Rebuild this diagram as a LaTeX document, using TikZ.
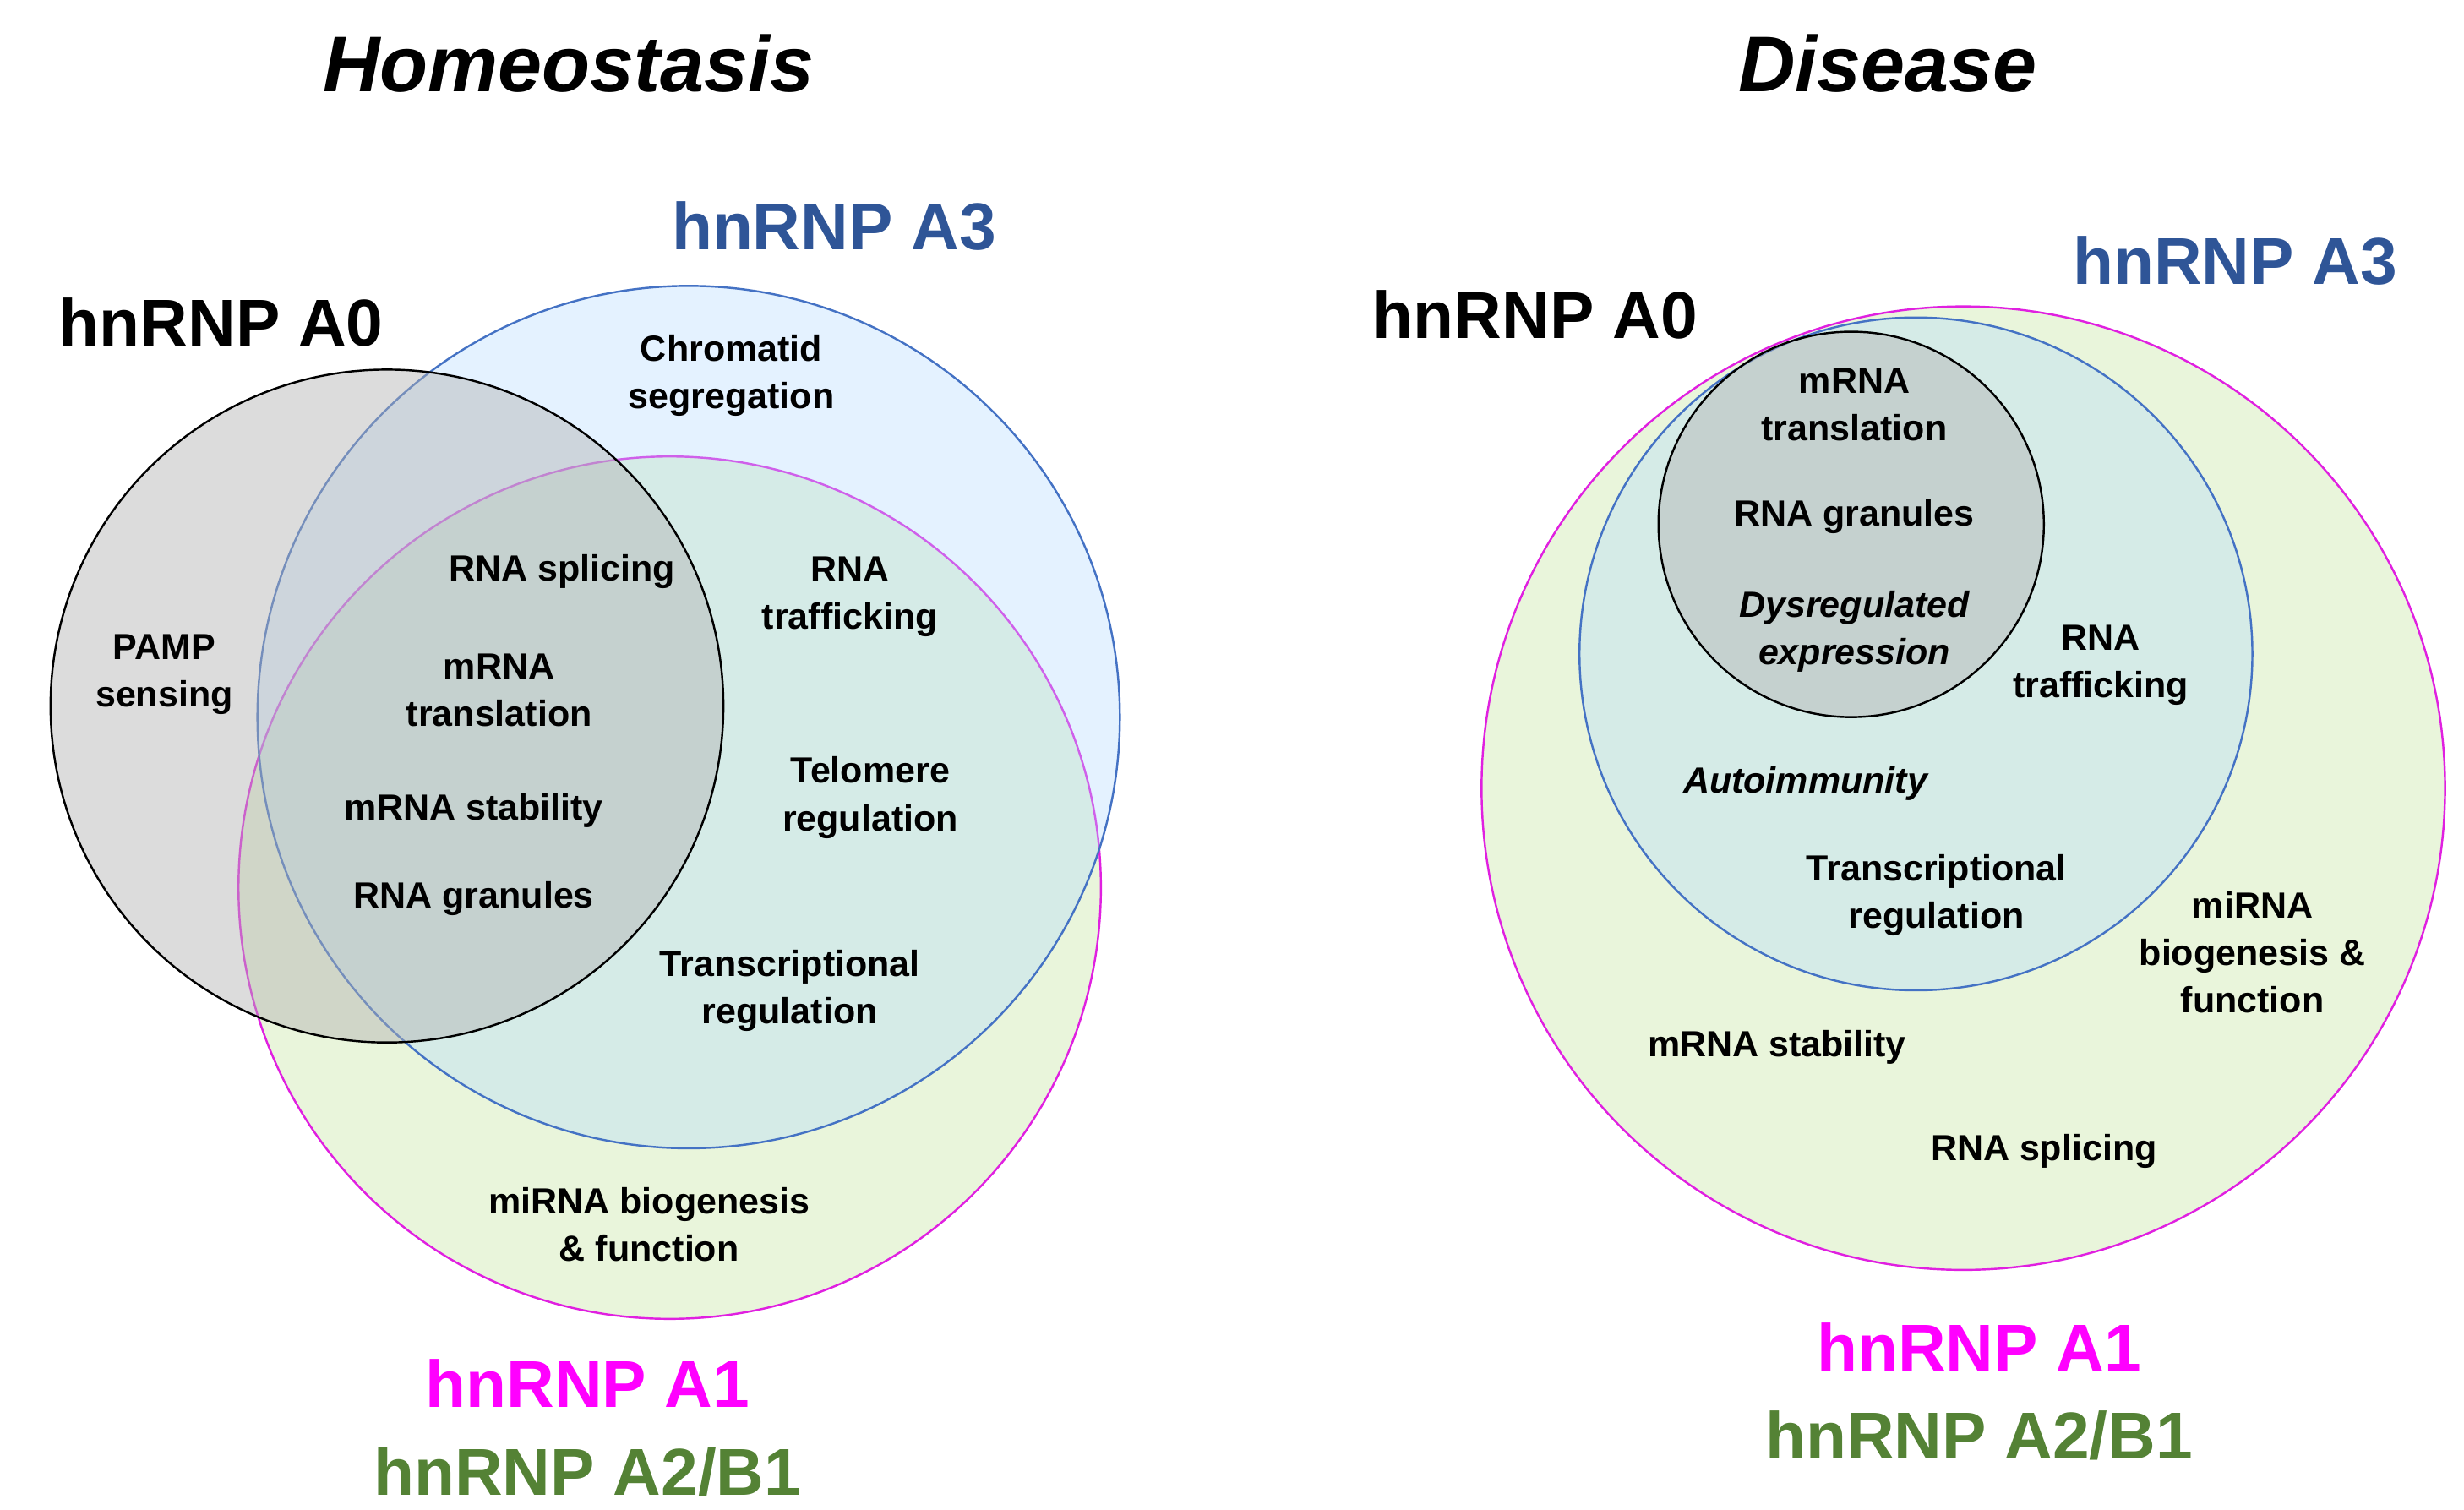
\documentclass[tikz,border=0pt]{standalone}
\usepackage{fontspec}
\setmainfont{Liberation Sans}
\begin{document}
\begin{tikzpicture}[x=1pt,y=-1pt,
 lab/.style={font=\fontsize{23}{30}\selectfont\bfseries,align=center},
 big/.style={font=\fontsize{42}{46}\selectfont\bfseries},
 title/.style={font=\fontsize{50}{54}\selectfont\bfseries\itshape},
 c0/.style={draw=black,line width=1.3pt,fill=gray!60,fill opacity=0.45},
 c3/.style={draw=blue3,line width=1.3pt,fill=blue!50!cyan!30,fill opacity=0.35},
 c1/.style={draw=mag,line width=1.3pt,fill=green1}]
\definecolor{blue3}{HTML}{4472C4}
\definecolor{mag}{HTML}{E020E0}
\definecolor{green1}{HTML}{E9F5DB}
\definecolor{tblue}{HTML}{2F5597}
\definecolor{tmag}{HTML}{FF00FF}
\definecolor{tgreen}{HTML}{548235}
\useasboundingbox (0,0) rectangle (1560,956);
% left
\node[c1,circle,minimum size=546pt] (a1) at (424,562) {};
\node[c3,circle,minimum size=546pt,text opacity=1] (a3) at (436,454) {};
\node[c0,circle,minimum size=426pt] (a0) at (245,447) {};
\node[title] (t1) at (360,40) {Homeostasis};
\node[big,tblue] (la3) at (528,143) {hnRNP A3};
\node[big] (la0) at (140,204) {hnRNP A0};
\node[big,tmag] (la1) at (372,876) {hnRNP A1};
\node[big,tgreen] (la2) at (372,932) {hnRNP A2/B1};
\node[lab] at (463,238) {Chromatid\\segregation};
\node[lab] at (104,427) {PAMP\\sensing};
\node[lab] at (356,362) {RNA splicing};
\node[lab] at (316,437) {mRNA\\translation};
\node[lab] at (300,513) {mRNA stability};
\node[lab] at (300,569) {RNA granules};
\node[lab] at (538,378) {RNA\\trafficking};
\node[lab] at (551,505) {Telomere\\regulation};
\node[lab] at (500,627) {Transcriptional\\regulation};
\node[lab] at (411,775) {miRNA biogenesis\\\& function};
% right
\node[c1,circle,minimum size=610pt] (b1) at (1243,499) {};
\node[c3,circle,minimum size=426pt] (b3) at (1213,414) {};
\node[c0,circle,minimum size=244pt] (b0) at (1172,332) {};
\node[title] (t2) at (1195,40) {Disease};
\node[big,tblue] (lb3) at (1415,165) {hnRNP A3};
\node[big] (lb0) at (972,199) {hnRNP A0};
\node[big,tmag] (lb1) at (1253,853) {hnRNP A1};
\node[big,tgreen] (lb2) at (1253,909) {hnRNP A2/B1};
\node[lab] at (1174,256) {mRNA\\translation};
\node[lab] at (1174,327) {RNA granules};
\node[lab,font=\fontsize{23}{30}\selectfont\bfseries\itshape] at (1174,400) {Dysregulated\\expression};
\node[lab] at (1330,421) {RNA\\trafficking};
\node[lab,font=\fontsize{23}{30}\selectfont\bfseries\itshape] at (1143,496) {Autoimmunity};
\node[lab] at (1226,567) {Transcriptional\\regulation};
\node[lab] at (1426,603) {miRNA\\biogenesis \&\\function};
\node[lab] at (1125,663) {mRNA stability};
\node[lab] at (1294,729) {RNA splicing};
\end{tikzpicture}
\end{document}
